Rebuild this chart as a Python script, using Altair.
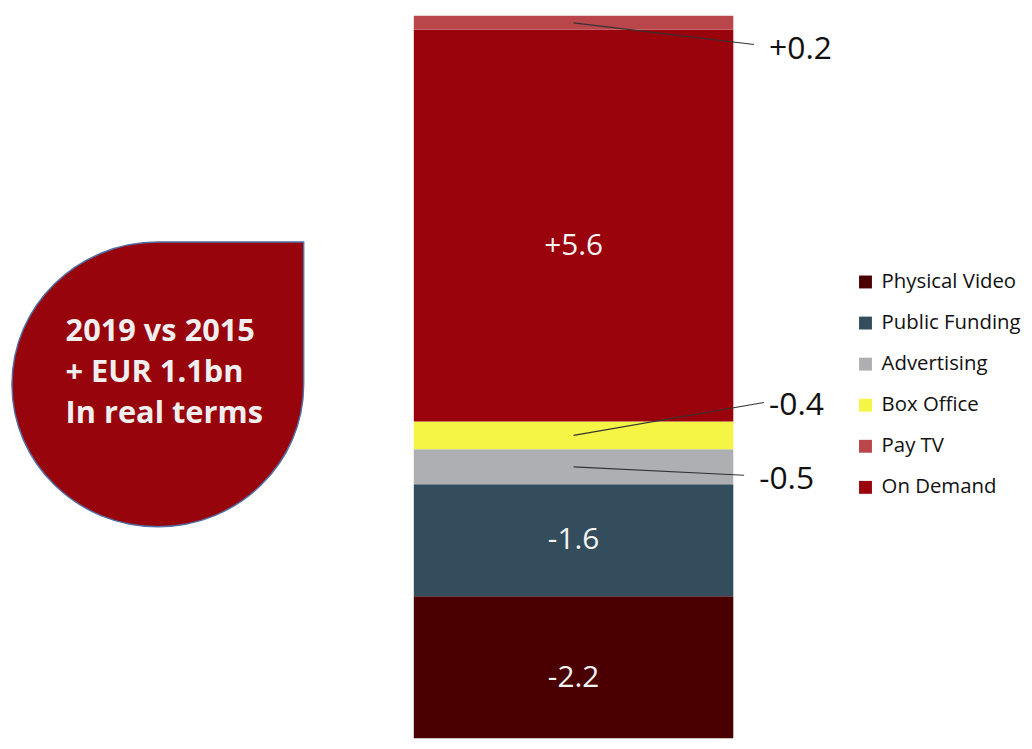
import altair as alt
import pandas as pd

# ---- data (stack order: bottom to top) ----
categories = ["Physical Video", "Public Funding", "Advertising", "Box Office", "On Demand", "Pay TV"]
changes = [-2.2, -1.6, -0.5, -0.4, 5.6, 0.2]
legend_order = ["Physical Video", "Public Funding", "Advertising", "Box Office", "Pay TV", "On Demand"]
legend_colors = ["#4a0000", "#334d5c", "#aeafb3", "#f5f546", "#b8464b", "#9a030c"]
inside_labels = ["Physical Video", "Public Funding", "On Demand"]
outside_labels = ["Pay TV", "Box Office", "Advertising"]
badge_lines = ["2019 vs 2015", "+ EUR 1.1bn", "In real terms"]

FONT = "Open Sans"

df = pd.DataFrame({"cat": categories, "change": changes})
df["mag"] = df["change"].abs()
df["y1"] = df["mag"].cumsum()
df["y0"] = df["y1"] - df["mag"]
df["mid"] = (df["y0"] + df["y1"]) / 2
df["label"] = df["change"].map(lambda v: f"{v:+.1f}")

# callout layout (leader-line end and label anchor, in axis units)
callout_layout = {
    "Pay TV":      dict(xe=1.065, ye=10.09, xl=1.112, yl=10.03),
    "Box Office":  dict(xe=1.096, ye=4.97, xl=1.112, yl=4.94),
    "Advertising": dict(xe=1.034, ye=3.93, xl=1.081, yl=3.874),
}
co = df[df["cat"].isin(outside_labels)].copy()
co["xs"] = 0.5
for k in ["xe", "ye", "xl", "yl"]:
    co[k] = co["cat"].map(lambda c: callout_layout[c][k])

W, H = 1024, 733
# bar occupies x in [0, 1] (plot px 409..731); y shows the stacked magnitudes
xscale = alt.Scale(domain=[-1.2702, 1.9099], zero=False, nice=False, padding=0)
yscale = alt.Scale(domain=[0.170, 10.571], zero=False, nice=False, padding=0)

base = alt.Chart(df)

bars = base.mark_bar(clip=True).encode(
    x=alt.X(datum=0, type="quantitative", scale=xscale, axis=None),
    x2=alt.X2(datum=1),
    y=alt.Y("y0:Q", scale=yscale, axis=None),
    y2="y1:Q",
    color=alt.Color(
        "cat:N",
        scale=alt.Scale(domain=legend_order, range=legend_colors),
        sort=legend_order,
        legend=alt.Legend(
            title=None,
            orient="none",
            legendX=854,
            legendY=263,
            symbolType="square",
            symbolSize=169,
            symbolStrokeWidth=0,
            labelFont=FONT,
            labelFontSize=20.5,
            labelColor="#111111",
            labelOffset=6,
            rowPadding=20.4,
            padding=0,
        ),
    ),
)

inner_shift = {"Physical Video": 5, "Public Funding": 0, "On Demand": 21}
inside_layers = []
for c in inside_labels:
    inside_layers.append(
        alt.Chart(df[df["cat"] == c]).mark_text(
            font=FONT, fontSize=30, color="#f4f4f4", baseline="middle", align="center",
            dy=inner_shift[c],
        ).encode(
            x=alt.X(datum=0.5, type="quantitative", scale=xscale, axis=None),
            y=alt.Y("mid:Q", scale=yscale, axis=None),
            text="label:N",
        )
    )

leaders = alt.Chart(co).mark_rule(color="#333333", strokeWidth=1.2).encode(
    x=alt.X("xs:Q", scale=xscale, axis=None),
    x2="xe:Q",
    y=alt.Y("mid:Q", scale=yscale, axis=None),
    y2="ye:Q",
)

outside = alt.Chart(co).mark_text(
    font=FONT, fontSize=32, color="#111111", baseline="middle", align="left"
).encode(
    x=alt.X("xl:Q", scale=xscale, axis=None),
    y=alt.Y("yl:Q", scale=yscale, axis=None),
    text="label:N",
)

one = pd.DataFrame({"k": [0]})
drop_path = "M0,-0.976 L1,-0.976 L1,0 A1,0.976 0 1 1 0,-0.976 Z"
badge = alt.Chart(one).mark_point(
    shape=drop_path, size=86436, filled=True, fill="#98040c", stroke="#4f6fa6",
    strokeWidth=1.5, opacity=1,
).encode(x=alt.value(151), y=alt.value(376.5))

badge_text = alt.Chart(one).mark_text(
    text=badge_lines, font=FONT, fontSize=31, fontWeight="bold", color="#f0eeee",
    align="left", baseline="middle", lineHeight=41,
).encode(x=alt.value(58), y=alt.value(324))

chart = alt.layer(bars, *inside_layers, leaders, outside, badge, badge_text).properties(
    width=W, height=H, autosize=alt.AutoSizeParams(type="none"), padding=0,
    background="white",
).configure_view(stroke=None)

chart.save("out.html", embed_options={"renderer": "svg", "actions": False})
